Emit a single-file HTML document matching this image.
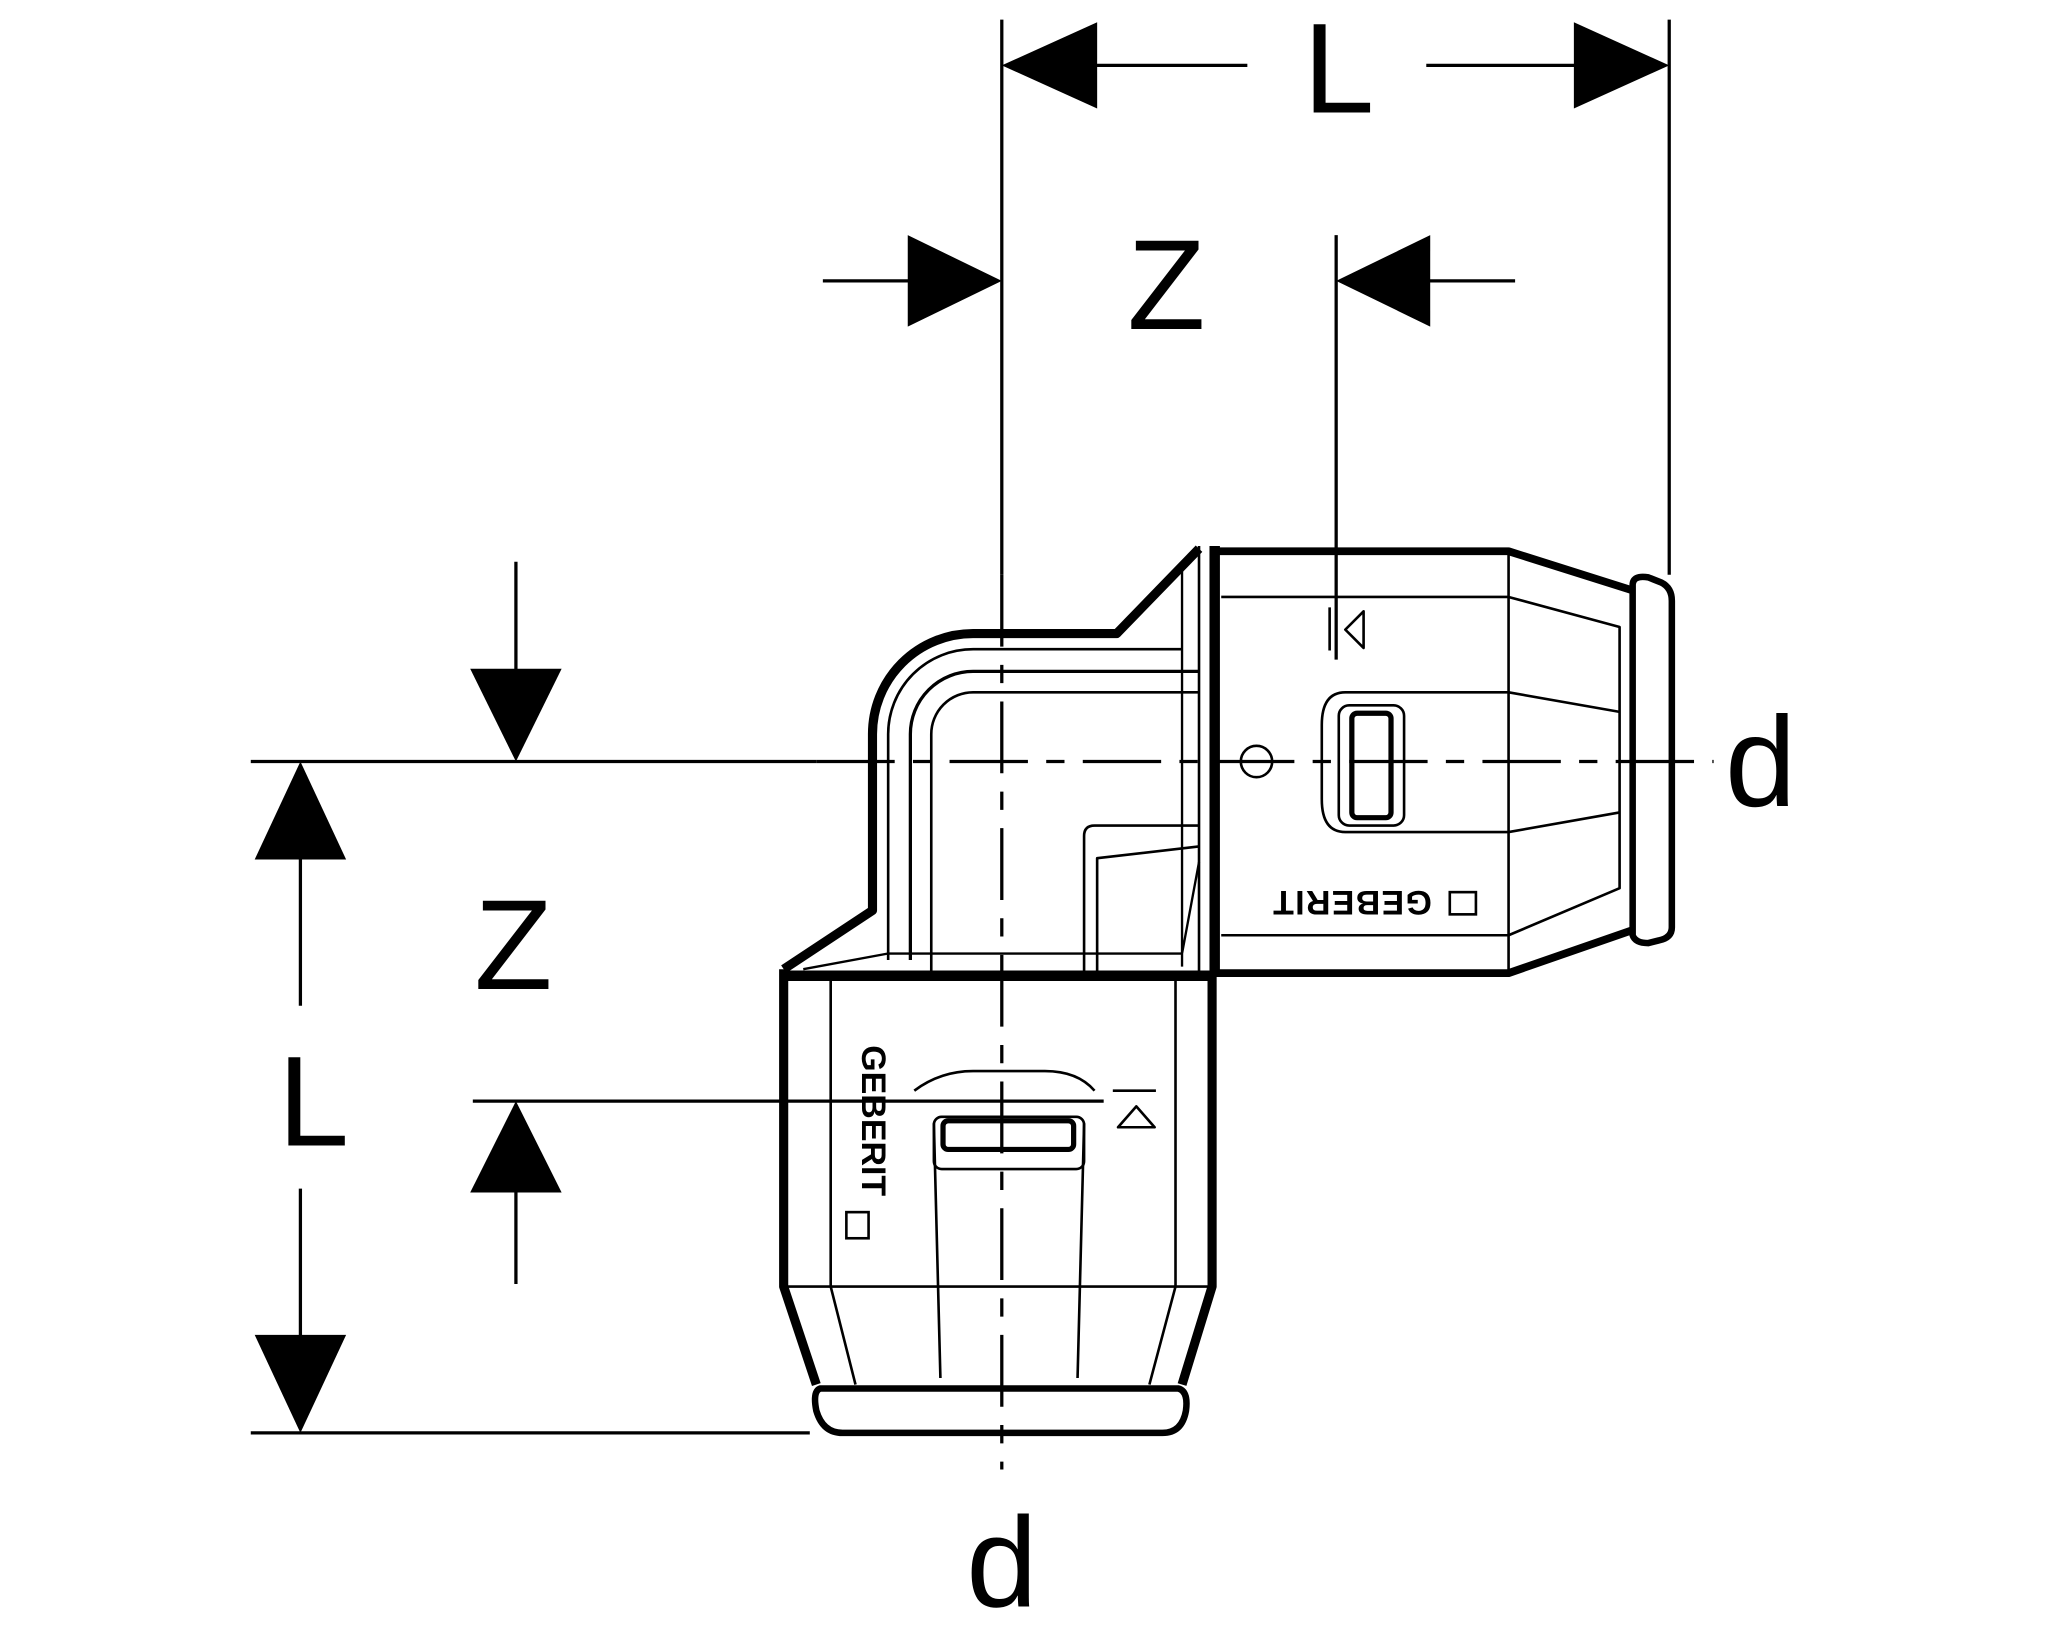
<!DOCTYPE html>
<html><head><meta charset="utf-8"><style>
html,body{margin:0;padding:0;background:#fff;}
svg{display:block;}
text{font-family:"Liberation Sans",sans-serif;fill:#000;}
</style></head><body>
<svg width="2048" height="1638" viewBox="0 0 1568 1254" xmlns="http://www.w3.org/2000/svg">
<rect width="1568" height="1254" fill="#fff"/>
<g stroke="#000" fill="none" stroke-width="2.5">
<!-- extension lines -->
<line x1="767" y1="15" x2="767" y2="440"/>
<line x1="1278" y1="15" x2="1278" y2="440"/>
<line x1="1023" y1="180" x2="1023" y2="505"/>
<!-- top L dimension -->
<line x1="835" y1="50" x2="955" y2="50"/>
<line x1="1092" y1="50" x2="1210" y2="50"/>
<!-- Z top -->
<line x1="630" y1="215" x2="700" y2="215"/>
<line x1="1090" y1="215" x2="1160" y2="215"/>
<!-- center horizontal -->
<line x1="192" y1="583" x2="625" y2="583"/>
<!-- left L -->
<line x1="230" y1="655" x2="230" y2="770"/>
<line x1="230" y1="910" x2="230" y2="1025"/>
<!-- left Z -->
<line x1="395" y1="430" x2="395" y2="515"/>
<line x1="395" y1="910" x2="395" y2="983"/>
<line x1="362" y1="843" x2="845" y2="843"/>
<line x1="192" y1="1097" x2="620" y2="1097"/>
<!-- dashed center lines -->
<line x1="625" y1="583" x2="1312" y2="583" stroke-dasharray="60 14 14 14"/>
<line x1="767" y1="440" x2="767" y2="1125" stroke-dasharray="55 14 14 14"/>
</g>
<!-- arrowheads -->
<g fill="#000">
<polygon points="767,50 840,17 840,83"/>
<polygon points="1278,50 1205,17 1205,83"/>
<polygon points="767,215 695,180 695,250"/>
<polygon points="1023,215 1095,180 1095,250"/>
<polygon points="395,583 360,512 430,512"/>
<polygon points="395,843 360,913 430,913"/>
<polygon points="230,583 195,658 265,658"/>
<polygon points="230,1097 195,1022 265,1022"/>
</g>
<!-- labels -->
<g font-size="98">
<text x="1025" y="86" text-anchor="middle">L</text>
<text x="893" y="252" text-anchor="middle">Z</text>
<text x="393" y="757" text-anchor="middle">Z</text>
<text x="240" y="877" text-anchor="middle">L</text>
<text x="1348" y="617" text-anchor="middle">d</text>
<text x="767" y="1230" text-anchor="middle">d</text>
</g>
<!-- elbow body -->
<g stroke="#000" fill="none" stroke-linejoin="round">
<path d="M600,742 L668,697 L668,562 A77,77 0 0 1 745,485 L855,485 L918,420" stroke-width="7"/>
<path d="M680,735 L680,562 A65,65 0 0 1 745,497 L905,497" stroke-width="2"/>
<path d="M697,735 L697,562 A48,48 0 0 1 745,514 L918,514" stroke-width="2.5"/>
<path d="M713,748 L713,562 A32,32 0 0 1 745,530 L918,530" stroke-width="2"/>
<path d="M830,748 L830,640 Q830,632 838,632 L918,632" stroke-width="2"/>
<path d="M840,748 L840,657 L918,648" stroke-width="2"/>
<path d="M615,742 L680,730 L905,730 L918,660 M905,740 L905,430" stroke-width="1.8"/>
<line x1="918" y1="418" x2="918" y2="748" stroke-width="2"/>
<!-- right fitting -->
<path d="M930,418 L930,748" stroke-width="8"/>
<path d="M930,422 L1155,422 L1250,452 M930,745 L1155,745 L1250,712" stroke-width="6"/>
<path d="M1250,448 Q1250,440 1262,442 L1272,446 Q1280,450 1280,460 L1280,710 Q1280,718 1270,720 L1262,722 Q1252,722 1250,716 Z" stroke-width="5"/>
<line x1="935" y1="457" x2="1155" y2="457" stroke-width="2"/>
<line x1="935" y1="716" x2="1155" y2="716" stroke-width="2"/>
<line x1="1155" y1="424" x2="1155" y2="743" stroke-width="2"/>
<path d="M1155,457 L1240,480 L1240,680 L1155,716" stroke-width="2"/>
<path d="M1012,555 Q1012,530 1030,530 L1155,530 L1240,545 M1012,555 L1012,612 Q1012,637 1030,637 L1155,637 L1240,622" stroke-width="2"/>
<rect x="1025" y="540" width="50" height="92" rx="8" stroke-width="2"/>
<rect x="1035" y="546" width="30" height="80" rx="4" stroke-width="4"/>
<circle cx="962" cy="583" r="12" stroke-width="2"/>
<line x1="952" y1="583" x2="972" y2="583" stroke-width="2"/>
<path d="M1018,465 L1018,498 M1044,468 L1030,482 L1044,496 Z" stroke-width="2"/>
<!-- vertical fitting -->
<path d="M600,742 L600,985 L625,1060 M928,748 L928,985 L905,1060" stroke-width="7"/>
<line x1="600" y1="747" x2="930" y2="747" stroke-width="8"/>
<path d="M628,1063 Q622,1065 625,1080 Q630,1097 645,1097 L890,1097 Q905,1097 908,1080 Q910,1065 902,1063 Z" stroke-width="5"/>
<line x1="600" y1="985" x2="928" y2="985" stroke-width="2"/>
<line x1="636" y1="750" x2="636" y2="985" stroke-width="2"/>
<line x1="900" y1="750" x2="900" y2="985" stroke-width="2"/>
<path d="M636,985 L655,1060 M900,985 L880,1060" stroke-width="2"/>
<path d="M715,860 L720,1055 M830,860 L825,1055" stroke-width="2"/>
<path d="M700,835 Q720,820 745,820 L800,820 Q825,820 838,835" stroke-width="2"/>
<rect x="715" y="855" width="115" height="40" rx="6" stroke-width="2"/>
<rect x="722" y="858" width="100" height="22" rx="4" stroke-width="4"/>
<path d="M852,835 L885,835 M856,863 L870,847 L884,863 Z" stroke-width="2"/>
</g>
<!-- GEBERIT marks -->
<text x="1035" y="698" font-size="26" font-weight="bold" transform="rotate(180 1035 690)" text-anchor="middle" style="letter-spacing:1px">GEBERIT</text>
<rect x="1110" y="683" width="20" height="17" fill="none" stroke="#000" stroke-width="2"/>
<text x="668" y="850" font-size="26" font-weight="bold" transform="rotate(90 660 850)" text-anchor="middle">GEBERIT</text>
<rect x="648" y="928" width="17" height="20" fill="none" stroke="#000" stroke-width="2"/>
</svg>
</body></html>
